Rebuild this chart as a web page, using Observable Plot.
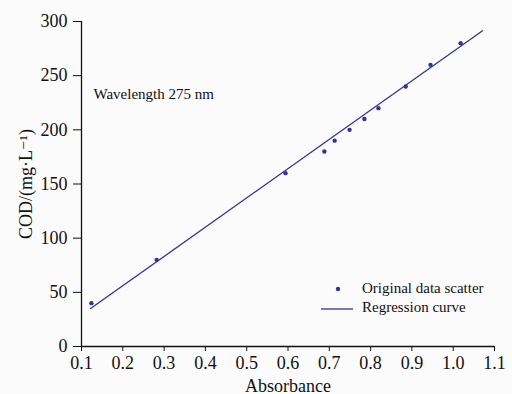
<!DOCTYPE html>
<html><head><meta charset="utf-8">
<script src="https://cdn.jsdelivr.net/npm/d3@7"></script>
<script src="https://cdn.jsdelivr.net/npm/@observablehq/plot@0.6"></script>
<style>
body{margin:0;background:#fbfbfb;}
#wrap{position:relative;width:512px;height:394px;font-family:"Liberation Serif","Times New Roman","DejaVu Serif",serif;}
#wrap svg, #wrap svg text{font-family:"Liberation Serif","Times New Roman","DejaVu Serif",serif !important;}
.leg{position:absolute;font-size:15px;color:#111;white-space:nowrap;font-family:"Liberation Serif","Times New Roman",serif;}
</style></head>
<body><div id="wrap"></div>
<script>
const absorbance = [0.124, 0.282, 0.594, 0.688, 0.713, 0.749, 0.785, 0.819, 0.885, 0.945, 1.018];
const cod = [40, 80, 160, 180, 190, 200, 210, 220, 240, 260, 280];
const regAbsorbance = [0.122, 1.071];
const regCod = [35, 291.5];
const xTicks = [0.1,0.2,0.3,0.4,0.5,0.6,0.7,0.8,0.9,1.0,1.1];
const yTicks = [0,50,100,150,200,250,300];
const color = "#2e3597";

const pts = absorbance.map((a,i)=>({x:a,y:cod[i]}));
const reg = regAbsorbance.map((a,i)=>({x:a,y:regCod[i]}));

const chart = Plot.plot({
  width:512, height:394,
  marginLeft:81, marginRight:18, marginTop:21, marginBottom:48,
  style:{background:"transparent", color:"#111"},
  x:{domain:[0.1,1.1], label:null},
  y:{domain:[0,300], label:null},
  marks:[
    Plot.axisX({ticks:xTicks, tickFormat:d=>d.toFixed(1), tickSize:5, fontSize:18, tickPadding:5, label:"Absorbance", labelAnchor:"center", labelArrow:"none", labelOffset:45}),
    Plot.axisY({ticks:yTicks, tickSize:8, fontSize:18, tickPadding:6, label:"COD/(mg·L⁻¹)", labelAnchor:"center", labelArrow:"none", labelOffset:62}),
    Plot.ruleX([0.1],{stroke:"#111", strokeWidth:1.3}),
    Plot.ruleY([0],{stroke:"#111", strokeWidth:1.3}),
    Plot.line(reg,{x:"x",y:"y",stroke:color,strokeWidth:1.3}),
    Plot.dot(pts,{x:"x",y:"y",r:2.2,fill:color}),
    Plot.text(["Wavelength 275 nm"],{frameAnchor:"top-left", dx:12, dy:67, fontSize:15, textAnchor:"start", fill:"#111"})
  ]
});
const wrap = document.getElementById("wrap");
wrap.appendChild(chart);
chart.querySelectorAll('[aria-label="x-axis label"], [aria-label="y-axis label"]').forEach(g=>{g.setAttribute("font-size","18"); g.querySelectorAll("text").forEach(t=>t.setAttribute("font-size","18"));});
const leg = document.createElement("div");
leg.innerHTML = `
<svg style="position:absolute;left:0;top:0" width="512" height="394">
<circle cx="338" cy="289" r="2.2" fill="${color}"/>
<line x1="321" x2="353" y1="309" y2="309" stroke="${color}" stroke-width="1.3"/>
</svg>
<div class="leg" style="left:362px;top:280px">Original data scatter</div>
<div class="leg" style="left:362px;top:299px">Regression curve</div>`;
wrap.appendChild(leg);
</script></body></html>
